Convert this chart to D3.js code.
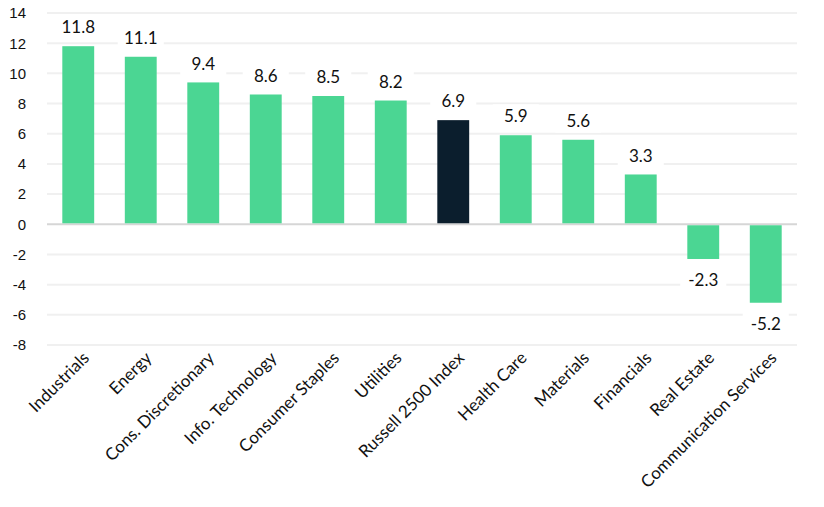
<!DOCTYPE html>
<html>
  <head>
    <meta charset="utf-8">
    <title>Sector returns</title>
    <script src="https://cdn.jsdelivr.net/npm/d3@7"></script>
    <style>
      body { margin: 0; background: #fff; }
      .tick-y { font-family: "Liberation Sans", Arial, sans-serif; font-size: 15px; fill: #111; }
      .cat { font-family: Lato, "Open Sans", sans-serif; font-size: 17px; fill: #111; }
      .val { font-family: Lato, "Open Sans", sans-serif; font-size: 17px; fill: #111; }
    </style>
  </head>
  <body>
    <svg id="chart" width="824" height="507"></svg>
    <script>
      // data
      var categories = ["Industrials", "Energy", "Cons. Discretionary", "Info. Technology",
        "Consumer Staples", "Utilities", "Russell 2500 Index", "Health Care",
        "Materials", "Financials", "Real Estate", "Communication Services"];
      var values = [11.8, 11.1, 9.4, 8.6, 8.5, 8.2, 6.9, 5.9, 5.6, 3.3, -2.3, -5.2];
      var highlight = "Russell 2500 Index";
      var yTicks = [-8, -6, -4, -2, 0, 2, 4, 6, 8, 10, 12, 14];

      var svg = d3.select("#chart");
      var plotLeft = 47, plotRight = 797, plotTop = 13, plotBottom = 345;

      var x = d3.scaleBand().domain(categories).range([plotLeft, plotRight]).paddingInner(0.49).paddingOuter(0.245);
      var y = d3.scaleLinear().domain([-8, 14]).range([plotBottom, plotTop]);

      // gridlines
      svg.append("g").selectAll("line")
        .data(yTicks)
        .enter().append("line")
          .attr("x1", plotLeft).attr("x2", plotRight)
          .attr("y1", function (d) { return y(d); })
          .attr("y2", function (d) { return y(d); })
          .attr("stroke", function (d) { return d === 0 ? "#d6d6d6" : "#f0f0f0"; })
          .attr("stroke-width", 2);

      // y tick labels
      svg.append("g").selectAll("text")
        .data(yTicks)
        .enter().append("text")
          .attr("class", "tick-y")
          .attr("x", 26)
          .attr("y", function (d) { return y(d); })
          .attr("dy", "0.36em")
          .attr("text-anchor", "end")
          .text(function (d) { return d; });

      // bars
      svg.append("g").selectAll("rect")
        .data(values)
        .enter().append("rect")
          .attr("x", function (d, i) { return x(categories[i]); })
          .attr("width", x.bandwidth())
          .attr("y", function (d) { return d >= 0 ? y(d) : y(0) + 1; })
          .attr("height", function (d) { return d >= 0 ? y(0) - y(d) - 1 : y(d) - y(0) - 1; })
          .attr("fill", function (d, i) { return categories[i] === highlight ? "#0b1e2d" : "#4bd693"; });

      // value labels with white backing
      var lab = svg.append("g").selectAll("g")
        .data(values)
        .enter().append("g")
          .attr("transform", function (d, i) {
            var cx = x(categories[i]) + x.bandwidth() / 2;
            var cy = d >= 0 ? y(d) - 19 : y(d) + 21;
            return "translate(" + cx + "," + cy + ")";
          });
      lab.append("rect")
        .attr("x", -23).attr("y", -12).attr("width", 46).attr("height", 24)
        .attr("fill", "#fff");
      lab.append("text")
        .attr("class", "val")
        .attr("text-anchor", "middle")
        .attr("dy", "0.36em")
        .text(function (d) { return d.toFixed(1); });

      // category labels
      svg.append("g").selectAll("text")
        .data(categories)
        .enter().append("text")
          .attr("class", "cat")
          .attr("text-anchor", "end")
          .attr("transform", function (d) {
            return "translate(" + (x(d) + x.bandwidth() / 2 + 12) + ",359) rotate(-45)";
          })
          .text(function (d) { return d; });
    </script>
  </body>
</html>
